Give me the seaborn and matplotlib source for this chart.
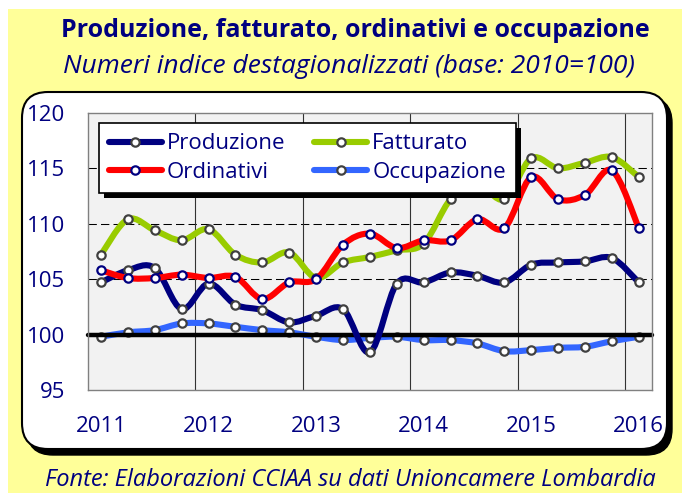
import numpy as np
import pandas as pd
import seaborn as sns
import matplotlib
matplotlib.use("Agg")
import matplotlib.pyplot as plt
from matplotlib.path import Path
from matplotlib.patches import PathPatch, Rectangle, FancyBboxPatch
from matplotlib.lines import Line2D
from matplotlib.transforms import IdentityTransform

# ---------------- data (quarterly, 2011 Q1 .. 2016 Q1) ----------------
quarters = ["2011-I", "2011-II", "2011-III", "2011-IV",
            "2012-I", "2012-II", "2012-III", "2012-IV",
            "2013-I", "2013-II", "2013-III", "2013-IV",
            "2014-I", "2014-II", "2014-III", "2014-IV",
            "2015-I", "2015-II", "2015-III", "2015-IV",
            "2016-I"]
year_labels = ["2011", "2012", "2013", "2014", "2015", "2016"]

produzione = [104.7, 105.8, 106.0, 102.3, 104.6, 102.7, 102.2, 101.1, 101.7, 102.3, 98.4,
              104.6, 104.7, 105.6, 105.3, 104.7, 106.3, 106.5, 106.6, 106.9, 104.7]
fatturato = [107.2, 110.4, 109.4, 108.5, 109.5, 107.2, 106.5, 107.4, 105.1, 106.5, 107.0,
             107.6, 108.2, 112.2, 113.6, 112.2, 115.9, 115.0, 115.5, 116.0, 114.2]
ordinativi = [105.8, 105.1, 105.1, 105.4, 105.1, 105.2, 103.2, 104.7, 105.0, 108.1, 109.1,
              107.8, 108.5, 108.5, 110.4, 109.6, 114.2, 112.2, 112.6, 114.8, 109.6]
occupazione = [99.8, 100.2, 100.4, 101.0, 101.0, 100.7, 100.4, 100.2, 99.8, 99.5, 99.7,
               99.8, 99.5, 99.5, 99.2, 98.5, 98.6, 98.8, 98.9, 99.4, 99.8]

series_names = ["Produzione", "Fatturato", "Ordinativi", "Occupazione"]

df = pd.DataFrame({"periodo": quarters, "pos": np.arange(len(quarters)),
                   "Produzione": produzione, "Fatturato": fatturato,
                   "Ordinativi": ordinativi, "Occupazione": occupazione})
long_df = df.melt(id_vars=["periodo", "pos"], var_name="serie", value_name="indice")

# ---------------- styling ----------------
sns.set_theme(style="white")
plt.rcParams["font.family"] = ["Open Sans", "DejaVu Sans"]

NAVY = "#000080"
colors = {"Produzione": "#000080", "Fatturato": "#99CC00",
          "Ordinativi": "#FF0000", "Occupazione": "#3366FF"}
mk_edge = {"Produzione": "#404040", "Fatturato": "#404040",
           "Ordinativi": "#000080", "Occupazione": "#404040"}
zord = {"Occupazione": 2.0, "Produzione": 3.0, "Fatturato": 3.1, "Ordinativi": 3.2}

W, H = 682, 493
fig = plt.figure(figsize=(W / 100, H / 100), dpi=100)
fig.patch.set_facecolor("white")

# background axes in pixel coordinates
bg = fig.add_axes([0, 0, 1, 1])
bg.set_xlim(0, W)
bg.set_ylim(H, 0)
bg.axis("off")
bg.add_patch(Rectangle((8, 9), W - 8, H - 9, facecolor="#FFFF99", edgecolor="none"))
bg.add_patch(FancyBboxPatch((27, 97), 645, 358, boxstyle="round,pad=0,rounding_size=26",
                            facecolor="black", edgecolor="black"))
bg.add_patch(FancyBboxPatch((22, 92), 645, 357, boxstyle="round,pad=0,rounding_size=26",
                            facecolor="white", edgecolor="black", linewidth=1.5))

bg.text(355, 37, "Produzione, fatturato, ordinativi e occupazione", ha="center", va="baseline",
        fontsize=18, fontweight="bold", color=NAVY)
bg.text(349, 73, "Numeri indice destagionalizzati (base: 2010=100)", ha="center", va="baseline",
        fontsize=19, style="italic", color=NAVY)
bg.text(350, 486, "Fonte: Elaborazioni CCIAA su dati Unioncamere Lombardia", ha="center",
        va="baseline", fontsize=17, style="italic", color=NAVY)

# main plot axes
left, right, top, bottom = 87.5, 652.3, 112.8, 390.0
ax = fig.add_axes([left / W, (H - bottom) / H, (right - left) / W, (bottom - top) / H])
ax.set_zorder(1)
ax.set_facecolor("#F2F2F2")


def bezier_path(xs, ys):
    pts = np.column_stack([xs, ys]).astype(float)
    n = len(pts)
    verts = [pts[0]]
    codes = [Path.MOVETO]
    for i in range(n - 1):
        p0 = pts[i - 1] if i > 0 else pts[i]
        p1 = pts[i]
        p2 = pts[i + 1]
        p3 = pts[i + 2] if i + 2 < n else pts[i + 1]
        c1 = p1 + (p2 - p0) / 6.0
        c2 = p2 - (p3 - p1) / 6.0
        verts += [c1, c2, p2]
        codes += [Path.CURVE4] * 3
    return Path(verts, codes)


ax.axhline(100, color="black", lw=3.2, zorder=2.5, clip_on=False)

for name in series_names:
    sub = long_df[long_df["serie"] == name]
    ax.add_patch(PathPatch(bezier_path(sub["pos"].values, sub["indice"].values),
                           facecolor="none", edgecolor=colors[name], lw=4.4,
                           capstyle="round", joinstyle="round", zorder=zord[name]))
    sns.scatterplot(data=sub, x="pos", y="indice", ax=ax, color="white", s=36,
                    edgecolor=mk_edge[name], linewidth=1.6, zorder=zord[name] + 0.05,
                    legend=False)

ax.set_xlim(-0.5, len(quarters) - 0.5)
ax.set_ylim(95, 120)
ax.set_xticks(np.arange(0, len(quarters), 4))
ax.set_xticklabels(year_labels)
ax.set_yticks([95, 100, 105, 110, 115, 120])
ax.set_xlabel("")
ax.set_ylabel("")
ax.tick_params(axis="both", length=0, labelsize=16, labelcolor=NAVY)
ax.tick_params(axis="y", pad=16)
ax.tick_params(axis="x", pad=19)

for v in [105, 110, 115]:
    ax.axhline(v, color="black", lw=0.75, ls=(0, (8, 4)), zorder=1.5)
for xv in np.arange(3.5, len(quarters) - 1, 4):
    ax.axvline(xv, color="#333333", lw=0.8, zorder=1.5)
for sp in ax.spines.values():
    sp.set_color("#808080")
    sp.set_linewidth(1.0)

# legend: rows Produzione/Fatturato, Ordinativi/Occupazione (column-major order)
leg_order = ["Produzione", "Ordinativi", "Fatturato", "Occupazione"]
handles = [Line2D([], [], color=colors[n], lw=4.4, marker="o", markersize=6,
                  markerfacecolor="white", markeredgecolor=mk_edge[n], markeredgewidth=1.6)
           for n in leg_order]
leg = ax.legend(handles, leg_order, ncol=2, loc="upper left",
                bbox_to_anchor=((99.3 - left) / (right - left), (bottom - 123.3) / (bottom - top)),
                borderaxespad=0, fontsize=16, frameon=True, fancybox=False,
                handlelength=2.35, handletextpad=0.25, columnspacing=1.3,
                labelspacing=0.33, borderpad=0.45, numpoints=1, labelcolor=NAVY)
leg.get_frame().set_edgecolor("black")
leg.get_frame().set_linewidth(1.2)
leg.get_frame().set_facecolor("white")
leg.get_frame().set_alpha(1)
leg.set_zorder(6)

fig.canvas.draw()
bb = leg.get_window_extent()
ax.add_patch(Rectangle((bb.x0 + 5, bb.y0 - 5), bb.width, bb.height, transform=IdentityTransform(),
                       facecolor="black", edgecolor="none", zorder=5.5, clip_on=False))

fig.savefig("out.png", dpi=100, facecolor="white")
